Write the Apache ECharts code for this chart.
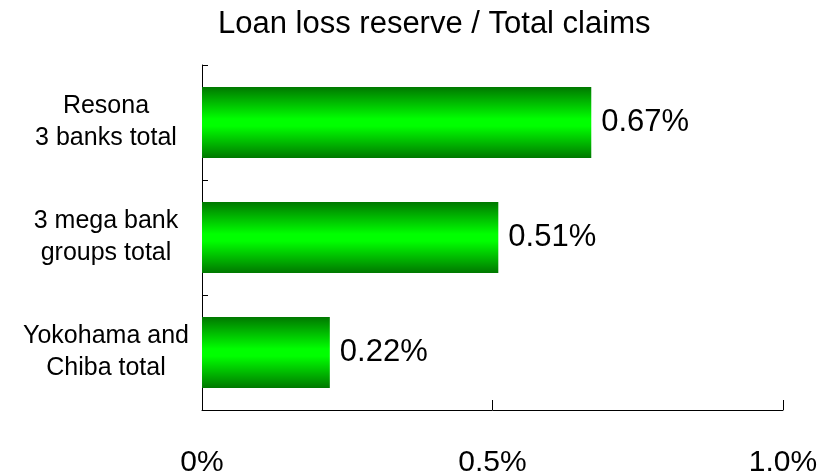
<!DOCTYPE html>
<html>
<head>
<meta charset="utf-8">
<script src="https://cdn.jsdelivr.net/npm/echarts@6/dist/echarts.min.js"></script>
<style>html,body{margin:0;padding:0;background:#fff}#c{width:821px;height:475px}</style>
</head>
<body>
<div id="c"></div>
<script>
const categories = ["Resona\n3 banks total", "3 mega bank\ngroups total", "Yokohama and\nChiba total"];
const values = [0.67, 0.51, 0.22];
const xTicks = [0, 0.5, 1.0];
const xTickLabels = ["0%", "0.5%", "1.0%"];
const chartTitle = "Loan loss reserve / Total claims";

const chart = echarts.init(document.getElementById('c'));
const FONT = '"Liberation Sans", Arial, sans-serif';
chart.setOption({
  animation: false,
  title: {
    text: chartTitle, left: 213, top: 4,
    textStyle: { fontFamily: FONT, fontSize: 31, fontWeight: 'normal', color: '#000' }
  },
  grid: { left: 202, right: 38, top: 65, bottom: 65, containLabel: false, outerBoundsMode: 'none' },
  xAxis: {
    type: 'value', min: 0, max: 1.0, interval: 0.5,
    axisLine: { show: true, lineStyle: { color: '#000', width: 1 } },
    axisTick: { show: true, inside: true, length: 10, lineStyle: { color: '#000' } },
    splitLine: { show: false },
    axisLabel: {
      margin: 38, fontFamily: FONT, fontSize: 30, color: '#000',
      formatter: v => { const i = xTicks.findIndex(t => Math.abs(t - v) < 1e-9); return i >= 0 ? xTickLabels[i] : ''; }
    }
  },
  yAxis: {
    type: 'category', data: categories, inverse: true,
    axisLine: { show: true, lineStyle: { color: '#000', width: 1 } },
    axisTick: { show: true, inside: true, length: 6, lineStyle: { color: '#000' } },
    axisLabel: { margin: 96, align: 'center', fontFamily: FONT, fontSize: 25, color: '#000', lineHeight: 32 }
  },
  series: [{
    type: 'bar', data: values, barWidth: 71,
    itemStyle: {
      color: new echarts.graphic.LinearGradient(0, 0, 0, 1, [
        { offset: 0, color: '#007800' },
        { offset: 0.45, color: '#00ff00' },
        { offset: 0.55, color: '#00ff00' },
        { offset: 1, color: '#007800' }
      ])
    },
    label: {
      show: true, position: 'right', distance: 10,
      fontFamily: FONT, fontSize: 31, color: '#000',
      formatter: p => p.value.toFixed(2) + '%'
    }
  }]
});
</script>
</body>
</html>
